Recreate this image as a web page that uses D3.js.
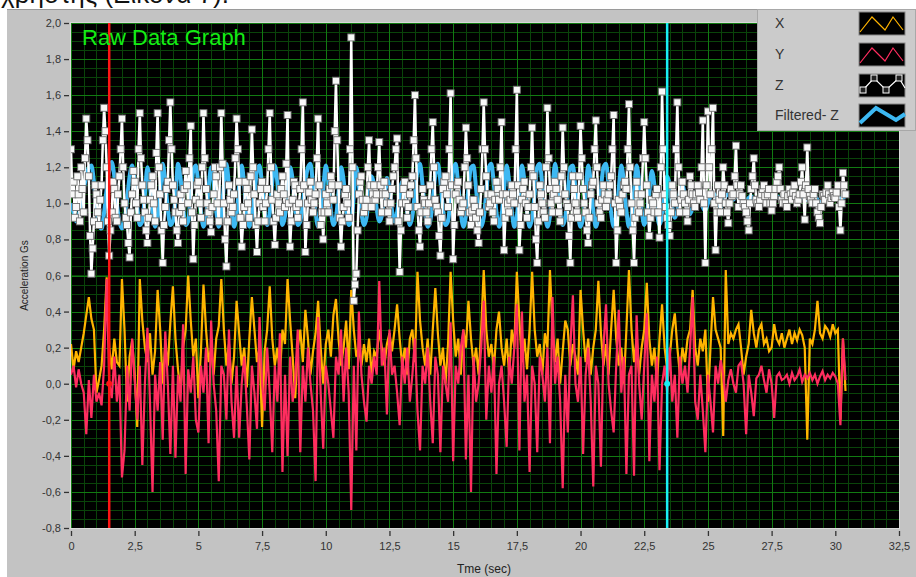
<!DOCTYPE html>
<html>
<head>
<meta charset="utf-8">
<script src="https://cdn.jsdelivr.net/npm/d3@7"></script>
<style>
  body { margin: 0; background: #fff; }
  svg { display: block; font-family: "Liberation Sans", Arial, sans-serif; }
</style>
</head>
<body>
<div id="chart"></div>
<script>
// X, Y and filtered Z are 0.1 s apart, raw Z is 0.05 s apart, all from t = 0
const sampleStep = 0.1;
const zStep = 0.05;

const xAccel = [
  0.22, 0.08, 0.18, 0.12, 0.2, 0.28, 0.38, 0.48, 0.36, 0.3,
  -0.05, 0.02, 0.1, 0.3, 0.59, 0.2, 0.08, 0.25, 0.12, 0.1,
  0.58, 0.3, -0.1, 0.15, 0.24, 0.05, -0.24, 0.58, 0.35, 0.2,
  0.12, 0.28, 0.05, 0.18, 0.52, 0.3, 0.0, 0.22, 0.1, 0.34,
  0.54, 0.25, 0.08, -0.05, 0.2, 0.3, 0.6, 0.35, 0.15, 0.25,
  -0.08, 0.18, 0.55, 0.3, 0.12, 0.2, 0.05, 0.25, 0.32, 0.58,
  0.3, 0.1, 0.22, 0.0, 0.15, 0.46, 0.28, 0.1, 0.2, -0.02,
  0.25, 0.48, 0.3, 0.12, 0.2, -0.24, 0.18, 0.3, 0.54, 0.25,
  0.1, 0.2, 0.05, 0.3, 0.22, 0.58, 0.35, 0.15, -0.08, 0.2,
  0.3, 0.12, 0.41, 0.25, 0.05, 0.18, 0.28, 0.46, 0.2, 0.0,
  0.22, 0.3, 0.15, 0.38, 0.47, 0.25, 0.1, 0.2, 0.35, 0.08,
  0.52, 0.3, 0.15, 0.2, 0.1, 0.22, 0.12, 0.25, 0.05, 0.18,
  0.15, 0.3, 0.2, 0.1, 0.22, 0.28, 0.18, 0.3, 0.44, 0.25,
  0.1, 0.2, 0.05, 0.25, 0.3, 0.12, 0.62, 0.35, 0.2, 0.1,
  0.25, 0.05, 0.3, 0.53, 0.28, 0.1, 0.2, 0.0, 0.22, 0.62,
  0.35, 0.15, 0.25, 0.05, 0.3, 0.2, 0.46, 0.25, 0.1, 0.2,
  0.05, 0.3, 0.63, 0.3, 0.15, 0.22, 0.08, 0.3, 0.4, 0.2,
  0.1, 0.25, 0.05, 0.3, 0.2, 0.62, 0.35, 0.12, 0.25, 0.08,
  0.3, 0.62, 0.3, 0.15, 0.22, 0.05, 0.28, 0.2, 0.63, 0.3,
  0.12, 0.25, 0.0, 0.18, 0.35, 0.3, 0.1, 0.22, 0.15, 0.05,
  0.52, 0.3, 0.12, 0.25, 0.05, 0.2, 0.3, 0.57, 0.28, 0.1,
  0.22, 0.05, 0.3, 0.52, 0.25, 0.1, 0.2, 0.0, 0.3, 0.63,
  0.3, 0.12, 0.25, 0.05, 0.2, 0.3, 0.56, 0.25, 0.1, 0.2,
  0.0, 0.25, 0.44, 0.2, 0.08, 0.15, 0.3, 0.39, 0.2, 0.05,
  0.2, 0.12, 0.25, 0.3, 0.52, 0.2, 0.1, 0.25, 0.18, 0.3,
  -0.1, 0.2, 0.48, 0.3, 0.25, 0.2, -0.29, 0.63, 0.22, 0.28,
  0.25, 0.3, 0.33, 0.2, 0.05, 0.15, 0.22, 0.41, 0.28, 0.2,
  0.3, 0.33, 0.22, 0.25, 0.18, 0.2, 0.33, 0.25, 0.22, 0.28,
  0.2, 0.25, 0.3, 0.22, 0.28, 0.24, 0.3, 0.27, 0.2, -0.31,
  0.25, 0.22, 0.3, 0.46, 0.28, 0.25, 0.32, 0.3, 0.26, 0.33,
  0.28, 0.3, -0.2, 0.25, -0.04
];

const yAccel = [
  0.05, 0.1, -0.02, 0.08, 0.0, -0.05, -0.28, 0.02, -0.19, 0.05,
  -0.1, -0.05, -0.12, 0.1, 0.58, 0.0, -0.08, 0.15, -0.1, 0.05,
  -0.52, -0.37, 0.1, -0.15, 0.25, 0.02, -0.2, 0.1, -0.45, 0.0,
  0.31, -0.1, -0.6, 0.05, -0.15, 0.12, -0.31, 0.29, 0.0, -0.39,
  0.1, -0.41, 0.05, -0.1, 0.33, -0.5, 0.08, -0.05, 0.15, -0.2,
  -0.27, 0.1, -0.05, 0.2, -0.33, 0.35, 0.0, -0.15, -0.54, 0.1,
  0.05, -0.2, 0.3, -0.1, -0.3, 0.1, -0.3, 0.0, 0.15, -0.12,
  -0.42, 0.1, -0.05, -0.25, 0.37, 0.0, -0.15, 0.2, -0.05, -0.38,
  0.1, -0.1, 0.28, -0.49, 0.05, -0.4, 0.15, -0.1, 0.02, 0.3,
  -0.38, 0.1, -0.1, 0.2, 0.0, -0.15, -0.54, 0.37, -0.05, -0.36,
  0.1, 0.0, -0.15, -0.3, 0.15, 0.05, 0.3, -0.1, 0.2, -0.05,
  -0.7, 0.1, -0.37, 0.4, 0.05, -0.1, -0.21, 0.1, 0.0, 0.15,
  0.05, 0.57, 0.1, 0.2, -0.17, 0.3, 0.05, 0.1, -0.05, -0.23,
  0.15, 0.0, 0.2, -0.1, 0.05, 0.25, -0.15, -0.37, 0.1, 0.0,
  0.2, -0.1, -0.33, 0.15, 0.05, -0.38, 0.1, 0.0, -0.1, 0.34,
  -0.43, 0.1, 0.0, 0.2, 0.3, -0.42, 0.05, -0.6, 0.15, -0.1,
  0.0, 0.2, 0.46, -0.2, 0.1, -0.05, 0.15, -0.5, 0.0, 0.1,
  -0.1, -0.35, 0.15, 0.0, 0.2, 0.44, -0.37, 0.4, -0.1, 0.05,
  -0.49, 0.1, 0.0, -0.38, 0.15, 0.05, -0.1, 0.2, -0.33, 0.48,
  0.0, 0.15, -0.1, -0.58, 0.05, -0.27, 0.2, 0.49, 0.0, -0.1,
  0.15, -0.39, 0.05, 0.2, -0.1, -0.57, 0.1, 0.0, -0.46, 0.2,
  0.44, 0.0, -0.15, -0.27, 0.1, 0.41, -0.05, 0.15, -0.5, 0.05,
  0.1, -0.51, 0.38, 0.0, -0.2, 0.1, 0.39, -0.43, 0.05, -0.1,
  0.15, -0.48, 0.0, 0.1, -0.05, 0.2, -0.1, 0.05, -0.3, 0.15,
  0.0, 0.1, -0.05, 0.2, 0.48, -0.1, -0.2, 0.05, -0.15, -0.38,
  0.05, -0.1, -0.27, 0.1, 0.0, 0.13, 0.05, -0.1, 0.02, 0.08,
  0.0, -0.05, 0.1, 0.12, 0.0, -0.28, 0.05, -0.05, -0.18, 0.03,
  0.05, 0.1, 0.02, -0.05, 0.08, 0.0, -0.19, 0.04, 0.06, 0.02,
  0.03, 0.05, 0.0, 0.06, 0.02, 0.04, 0.08, 0.01, 0.05, 0.03,
  0.06, 0.02, 0.05, 0.0, 0.04, 0.07, 0.02, 0.05, 0.03, 0.06,
  0.04, 0.0, -0.23, 0.25, 0.02
];

const zAccel = [
  1.3, 1.05, 1.12, 0.92, 0.98, 1.15, 1.05, 0.9, 1.2, 1.08, 0.95, 1.25, 1.47, 1.35, 1.15, 0.82, 0.61, 0.75, 0.9, 1.1,
  1.05, 0.95, 0.88, 1.02, 1.1, 1.35, 1.53, 1.4, 1.2, 0.9, 0.71, 0.85, 0.95, 1.12, 1.08, 0.92, 0.9, 1.05, 1.15, 1.3,
  1.47, 1.2, 1.0, 0.92, 0.88, 0.78, 0.7, 0.95, 1.05, 1.18, 1.12, 1.0, 0.92, 1.3, 1.5, 1.25, 1.1, 1.02, 0.95, 0.85,
  0.78, 0.92, 1.02, 1.1, 1.15, 1.0, 0.9, 1.28, 1.5, 1.2, 1.05, 0.85, 0.67, 0.88, 0.98, 1.08, 1.12, 1.35, 1.56, 1.3,
  1.1, 1.02, 0.95, 0.85, 0.78, 0.95, 1.05, 0.98, 0.9, 1.08, 1.18, 1.1, 1.0, 1.25, 1.43, 0.95, 0.69, 0.88, 1.02, 1.1,
  1.12, 1.0, 0.92, 1.2, 1.5, 1.25, 1.08, 1.0, 0.95, 0.9, 0.84, 0.98, 1.05, 1.2, 1.15, 1.0, 0.9, 1.2, 1.5, 1.22,
  1.0, 0.8, 0.65, 0.9, 1.1, 1.02, 0.95, 0.98, 1.05, 1.25, 1.47, 1.3, 1.12, 0.92, 0.76, 0.88, 0.98, 1.12, 1.08, 1.0,
  0.92, 1.15, 1.41, 1.2, 1.05, 0.88, 0.73, 0.9, 1.0, 1.08, 1.12, 0.98, 0.9, 1.0, 1.08, 1.3, 1.5, 1.2, 1.02, 0.9,
  0.77, 0.92, 1.05, 1.0, 0.95, 1.08, 1.15, 1.05, 0.98, 1.22, 1.49, 1.0, 0.76, 0.9, 1.02, 1.12, 1.1, 0.98, 0.92, 1.0,
  1.08, 1.3, 1.56, 1.1, 0.73, 0.88, 1.0, 1.06, 1.12, 1.02, 0.95, 1.0, 1.05, 1.25, 1.47, 1.1, 0.88, 0.95, 0.8, 0.95,
  1.05, 1.0, 0.95, 1.08, 1.15, 1.1, 1.02, 1.4, 1.68, 1.35, 1.1, 0.92, 0.76, 0.9, 0.98, 1.05, 1.08, 1.0, 0.92, 1.3,
  1.92, 1.2, 0.46, 0.55, 0.61, 0.85, 1.05, 1.12, 1.15, 1.02, 0.95, 0.98, 1.02, 1.2, 1.35, 1.1, 0.98, 1.05, 1.1, 1.02,
  1.05, 1.2, 1.34, 1.1, 0.95, 1.05, 1.12, 1.05, 1.0, 0.95, 0.9, 1.0, 1.08, 1.15, 1.2, 1.3, 1.36, 0.9, 0.62, 0.85,
  1.0, 1.08, 1.12, 1.0, 0.92, 0.98, 1.05, 1.1, 1.15, 1.35, 1.6, 1.25, 0.98, 0.85, 0.76, 0.95, 1.08, 1.02, 1.0, 0.95,
  0.9, 1.0, 1.1, 1.3, 1.45, 1.2, 1.02, 0.98, 0.95, 0.82, 0.71, 0.92, 1.08, 1.12, 1.15, 1.05, 0.98, 1.3, 1.61, 1.1,
  0.69, 0.88, 1.05, 1.1, 1.12, 1.02, 0.95, 0.98, 1.0, 1.2, 1.42, 1.25, 1.1, 0.95, 0.88, 0.96, 1.02, 0.98, 0.92, 0.85,
  0.78, 0.95, 1.08, 1.3, 1.56, 1.3, 1.15, 1.05, 0.98, 1.0, 1.05, 0.95, 0.9, 1.02, 1.12, 1.08, 1.02, 1.2, 1.45, 1.05,
  0.74, 0.92, 1.05, 1.0, 0.95, 1.02, 1.1, 1.05, 1.0, 1.3, 1.63, 1.1, 0.74, 0.88, 1.02, 1.08, 1.12, 1.0, 0.92, 0.98,
  1.05, 1.2, 1.42, 1.15, 0.98, 0.8, 0.67, 0.9, 1.1, 1.05, 1.0, 0.95, 0.92, 1.2, 1.53, 1.25, 1.08, 1.0, 0.95, 1.05,
  1.12, 1.08, 1.02, 0.95, 0.9, 1.15, 1.42, 1.2, 1.05, 1.0, 0.98, 0.82, 0.67, 0.92, 1.15, 1.08, 1.0, 0.95, 0.92, 1.15,
  1.43, 1.25, 1.08, 1.0, 0.95, 0.85, 0.78, 0.92, 1.05, 1.1, 1.12, 1.3, 1.46, 1.2, 1.0, 0.95, 0.92, 1.02, 1.1, 1.05,
  0.98, 1.02, 1.05, 1.1, 1.15, 1.3, 1.49, 1.0, 0.67, 0.85, 1.02, 0.98, 0.95, 1.05, 1.1, 1.12, 1.08, 1.3, 1.55, 1.2,
  1.0, 0.85, 0.67, 0.92, 1.12, 1.05, 0.95, 1.0, 1.05, 1.25, 1.45, 1.25, 1.1, 0.95, 0.82, 0.92, 1.02, 1.0, 0.95, 1.05,
  1.08, 0.95, 0.81, 1.2, 1.62, 1.3, 1.05, 0.98, 0.92, 0.88, 0.82, 0.95, 1.1, 1.05, 1.0, 1.3, 1.56, 1.2, 0.95, 1.02,
  1.12, 1.05, 1.0, 0.95, 0.9, 1.02, 1.15, 1.1, 1.05, 1.0, 0.98, 1.05, 1.1, 1.06, 1.02, 1.2, 1.46, 1.0, 0.67, 1.1,
  1.51, 1.2, 1.05, 1.3, 1.53, 1.0, 0.74, 0.95, 1.1, 1.02, 0.95, 1.05, 1.2, 1.1, 1.0, 0.95, 0.89, 1.0, 1.08, 1.04,
  1.05, 1.15, 1.32, 1.1, 0.98, 1.05, 1.1, 1.04, 1.0, 0.98, 0.95, 0.9, 0.85, 1.0, 1.08, 1.15, 1.25, 1.1, 1.02, 1.0,
  0.98, 1.02, 1.05, 1.08, 1.1, 1.04, 1.0, 1.05, 1.08, 1.0, 0.96, 1.0, 1.04, 1.08, 1.12, 1.15, 1.2, 1.08, 1.02, 1.0,
  1.05, 1.0, 0.98, 1.04, 1.08, 1.05, 1.02, 1.06, 1.1, 1.04, 1.0, 1.02, 1.05, 1.12, 1.2, 1.05, 0.91, 1.1, 1.31, 1.08,
  1.04, 1.02, 1.0, 1.05, 1.08, 1.0, 0.95, 0.92, 0.89, 0.98, 1.05, 1.04, 1.02, 1.06, 1.1, 1.05, 1.0, 1.03, 1.06, 1.04,
  1.03, 1.06, 1.1, 0.98, 0.85, 1.0, 1.17, 1.1, 1.05
];

const zFiltered = [
  1.0, 0.95, 0.9, 0.93, 1.0, 1.08, 1.15, 1.2, 1.21, 1.12,
  0.98, 0.88, 0.86, 0.95, 1.08, 1.18, 1.23, 1.15, 1.0, 0.9,
  0.86, 0.9, 1.02, 1.15, 1.21, 1.12, 0.98, 0.88, 0.9, 1.05,
  1.2, 1.1, 0.95, 0.87, 0.92, 1.06, 1.22, 1.12, 0.97, 0.88,
  0.9, 1.03, 1.22, 1.14, 0.98, 0.88, 0.9, 1.05, 1.18, 1.21,
  1.1, 0.95, 0.87, 0.92, 1.08, 1.2, 1.12, 0.96, 0.87, 0.93,
  1.1, 1.22, 1.1, 0.95, 0.87, 0.94, 1.1, 1.21, 1.1, 0.95,
  0.87, 0.92, 1.05, 1.18, 1.21, 1.1, 0.95, 0.88, 0.95, 1.12,
  1.21, 1.12, 0.97, 0.88, 0.93, 1.08, 1.2, 1.13, 0.97, 0.88,
  0.9, 1.0, 1.12, 1.2, 1.22, 1.1, 0.95, 0.87, 0.92, 1.08,
  1.21, 1.12, 0.96, 0.88, 0.92, 1.06, 1.2, 1.13, 0.97, 0.88,
  0.9, 1.04, 1.2, 1.1, 0.95, 0.88, 0.92, 1.05, 1.15, 1.1,
  0.97, 0.9, 0.93, 1.05, 1.14, 1.08, 0.96, 0.9, 0.95, 1.05,
  1.12, 1.06, 0.95, 0.88, 0.93, 1.06, 1.18, 1.22, 1.1, 0.95,
  0.87, 0.9, 1.02, 1.16, 1.22, 1.12, 0.97, 0.88, 0.9, 1.04,
  1.18, 1.22, 1.1, 0.95, 0.87, 0.93, 1.08, 1.2, 1.21, 1.08,
  0.94, 0.87, 0.92, 1.06, 1.2, 1.22, 1.1, 0.95, 0.87, 0.93,
  1.08, 1.21, 1.12, 0.96, 0.87, 0.93, 1.08, 1.21, 1.12, 0.96,
  0.87, 0.92, 1.06, 1.2, 1.22, 1.1, 0.95, 0.87, 0.93, 1.08,
  1.22, 1.12, 0.97, 0.88, 0.92, 1.06, 1.2, 1.21, 1.08, 0.94,
  0.87, 0.92, 1.06, 1.21, 1.12, 0.96, 0.87, 0.93, 1.08, 1.2,
  1.22, 1.1, 0.95, 0.87, 0.93, 1.08, 1.21, 1.12, 0.96, 0.87,
  0.92, 1.06, 1.21, 1.12, 0.96, 0.88, 0.93, 1.06, 1.18, 1.1,
  0.95, 0.88, 0.93, 1.05, 1.15, 1.1, 0.98, 0.92, 0.96, 1.06,
  1.1, 1.04, 0.96, 0.94, 0.98, 1.05, 1.08, 1.04, 0.98, 0.96,
  1.0, 1.04, 1.06, 1.03, 1.0, 0.98, 1.01, 1.04, 1.05, 1.03,
  1.02, 1.04, 1.03, 1.0, 0.99, 1.01, 1.03, 1.04, 1.02, 1.0,
  1.0, 1.02, 1.04, 1.03, 1.01, 1.0, 1.02, 1.04, 1.03, 1.01,
  1.0, 1.02, 1.03, 1.05, 1.03, 1.01, 1.02, 1.04, 1.03, 1.02,
  1.01, 1.03, 1.04, 1.02, 1.0, 1.02, 1.04, 1.03, 1.01, 1.02,
  1.03, 1.04, 1.02, 1.03, 1.04
];

const xTicks = [0, 2.5, 5, 7.5, 10, 12.5, 15, 17.5, 20, 22.5, 25, 27.5, 30, 32.5];
const yTicks = [-0.8, -0.6, -0.4, -0.2, 0, 0.2, 0.4, 0.6, 0.8, 1.0, 1.2, 1.4, 1.6, 1.8, 2.0];
const cursorTimes = [1.5, 23.4];
const legendNames = ["X", "Y", "Z", "Filtered- Z"];

var width = 916, height = 577;
var plot = { left: 71, right: 899, top: 23, bottom: 528 };
var colors = { x: "#ffb400", y: "#ff2d5f", z: "#ffffff", f: "#3db8f2" };
var cursorColors = ["#ff1414", "#19eef5"];

var svg = d3.select("#chart").append("svg")
  .attr("width", width)
  .attr("height", height);

// caption of the page above, cut off by the top edge
svg.append("text")
  .attr("x", 1).attr("y", 3)
  .style("font-size", "26px")
  .style("fill", "#111")
  .text("χρήστης (Εικόνα 7).");

// grey panel
svg.append("rect")
  .attr("x", 7).attr("y", 9)
  .attr("width", width - 7).attr("height", height - 9)
  .attr("fill", "#c3c3c3");
svg.append("line")
  .attr("x1", 7).attr("x2", width).attr("y1", 9.5).attr("y2", 9.5)
  .attr("stroke", "#9a9a9a");

var x = d3.scaleLinear().domain([0, 32.5]).range([plot.left, plot.right]);
var y = d3.scaleLinear().domain([-0.8, 2.0]).range([plot.bottom, plot.top]);

var fmt = (v) => (Number.isInteger(v) ? d3.format("d")(v) : d3.format(".1f")(v)).replace(".", ",").replace("−", "-");
var fmtY = (v) => d3.format(".1f")(v).replace(".", ",").replace("−", "-");

// plot background
svg.append("rect")
  .attr("x", plot.left).attr("y", plot.top)
  .attr("width", plot.right - plot.left).attr("height", plot.bottom - plot.top)
  .attr("fill", "#000");

svg.append("clipPath").attr("id", "clip")
  .append("rect")
  .attr("x", plot.left).attr("y", plot.top)
  .attr("width", plot.right - plot.left).attr("height", plot.bottom - plot.top);

var grid = svg.append("g").attr("clip-path", "url(#clip)");

// minor grid
grid.selectAll(".vminor")
  .data(d3.range(0, 32.51, 0.5))
  .join("line")
  .attr("x1", (d) => Math.round(x(d)) + 0.5).attr("x2", (d) => Math.round(x(d)) + 0.5)
  .attr("y1", plot.top).attr("y2", plot.bottom)
  .attr("stroke", "#0a440a");
grid.selectAll(".hminor")
  .data(d3.range(-0.8, 2.001, 0.05))
  .join("line")
  .attr("y1", (d) => Math.round(y(d)) + 0.5).attr("y2", (d) => Math.round(y(d)) + 0.5)
  .attr("x1", plot.left).attr("x2", plot.right)
  .attr("stroke", "#0a440a");

// major grid
grid.selectAll(".vmajor")
  .data(xTicks)
  .join("line")
  .attr("x1", (d) => Math.round(x(d)) + 0.5).attr("x2", (d) => Math.round(x(d)) + 0.5)
  .attr("y1", plot.top).attr("y2", plot.bottom)
  .attr("stroke", "#127a12");
grid.selectAll(".hmajor")
  .data(yTicks)
  .join("line")
  .attr("y1", (d) => Math.round(y(d)) + 0.5).attr("y2", (d) => Math.round(y(d)) + 0.5)
  .attr("x1", plot.left).attr("x2", plot.right)
  .attr("stroke", "#127a12");

// traces
var lineAt = (step) => d3.line()
  .x((d, i) => x(i * step))
  .y((d) => y(d));

var traces = svg.append("g").attr("clip-path", "url(#clip)");

traces.append("path").datum(xAccel)
  .attr("d", lineAt(sampleStep)).attr("fill", "none")
  .attr("stroke", colors.x).attr("stroke-width", 2.2);

traces.append("path").datum(yAccel)
  .attr("d", lineAt(sampleStep)).attr("fill", "none")
  .attr("stroke", colors.y).attr("stroke-width", 2.2);

traces.append("path").datum(zFiltered)
  .attr("d", lineAt(sampleStep).curve(d3.curveMonotoneX)).attr("fill", "none")
  .attr("stroke", colors.f).attr("stroke-width", 4);

traces.append("path").datum(zAccel)
  .attr("d", lineAt(zStep)).attr("fill", "none")
  .attr("stroke", colors.z).attr("stroke-width", 2.5);

// square markers: white body, thin grey rim
traces.selectAll(".zmark")
  .data(zAccel)
  .join("rect")
  .attr("class", "zmark")
  .attr("x", (d, i) => x(i * zStep) - 3.5)
  .attr("y", (d) => y(d) - 3.5)
  .attr("width", 7).attr("height", 7)
  .attr("fill", "#f8f8f8")
  .attr("stroke", "#6e6e6e")
  .attr("stroke-width", 0.9);

// cursors
cursorTimes.forEach((t, i) => {
  traces.append("line")
    .attr("x1", x(t)).attr("x2", x(t))
    .attr("y1", plot.top).attr("y2", plot.bottom)
    .attr("stroke", cursorColors[i]).attr("stroke-width", 2.5);
  traces.append("circle")
    .attr("cx", x(t)).attr("cy", y(0)).attr("r", 3)
    .attr("fill", cursorColors[i]);
});

// plot frame
svg.append("rect")
  .attr("x", plot.left - 0.5).attr("y", plot.top - 0.5)
  .attr("width", plot.right - plot.left + 1).attr("height", plot.bottom - plot.top + 1)
  .attr("fill", "none").attr("stroke", "#d9d9d9");

// title inside plot
svg.append("text")
  .attr("x", 82).attr("y", 45)
  .style("font-size", "22px")
  .style("fill", "#14ee14")
  .text("Raw Data Graph");

// axes
var yAxis = svg.append("g")
  .attr("transform", "translate(" + (plot.left - 2) + ",0)")
  .call(d3.axisLeft(y).tickValues(yTicks).tickFormat(fmtY).tickSize(5).tickPadding(3));
var xAxis = svg.append("g")
  .attr("transform", "translate(0," + (plot.bottom + 3) + ")")
  .call(d3.axisBottom(x).tickValues(xTicks).tickFormat(fmt).tickSize(5).tickPadding(6));

[xAxis, yAxis].forEach((a) => {
  a.select(".domain").remove();
  a.selectAll("line").attr("stroke", "#333").attr("stroke-width", 1.3);
  a.selectAll("text")
    .style("font-family", "'Liberation Sans', Arial, sans-serif")
    .style("font-size", "11px")
    .attr("fill", "#333");
});

svg.append("text")
  .attr("transform", "translate(28," + ((plot.top + plot.bottom) / 2) + ") rotate(-90)")
  .attr("text-anchor", "middle")
  .style("font-size", "10px")
  .style("fill", "#222")
  .text("Acceleration Gs");

svg.append("text")
  .attr("x", 484).attr("y", 573)
  .attr("text-anchor", "middle")
  .style("font-size", "12px")
  .style("fill", "#222")
  .text("Tme (sec)");

// legend
var legend = svg.append("g");
legend.append("rect")
  .attr("x", 757.5).attr("y", 9.5)
  .attr("width", 158).attr("height", 121)
  .attr("fill", "#cbcbcb").attr("stroke", "#a8a8a8");

var swatchX = 859, swatchW = 46, swatchH = 23;
var rowY = [12, 43, 74, 104];

var swatchLines = [
  [[1, 20], [13, 5], [26, 18], [34, 5], [44, 18]],
  [[1, 20], [13, 5], [26, 18], [34, 5], [44, 18]],
  [[4, 16], [15, 4], [27, 16], [40, 4], [46, 14]],
  [[1, 19], [17, 4], [37, 16], [46, 10]]
];
var swatchColors = [colors.x, colors.y, colors.z, colors.f];

legendNames.forEach((name, i) => {
  legend.append("text")
    .attr("x", 775).attr("y", rowY[i] + 16)
    .style("font-size", "14px")
    .style("fill", "#333")
    .text(name);
  var g = legend.append("g").attr("transform", "translate(" + swatchX + "," + rowY[i] + ")");
  g.append("rect")
    .attr("width", swatchW).attr("height", swatchH)
    .attr("fill", "#000").attr("stroke", "#888");
  g.append("path")
    .attr("d", d3.line()(swatchLines[i]))
    .attr("fill", "none")
    .attr("stroke", swatchColors[i])
    .attr("stroke-width", i == 3 ? 4 : 1.2);
  if (i == 2) {
    g.selectAll("rect.m")
      .data(swatchLines[i].slice(0, 4))
      .join("rect")
      .attr("class", "m")
      .attr("x", (d) => d[0] - 3).attr("y", (d) => d[1] - 3)
      .attr("width", 6).attr("height", 6)
      .attr("fill", "#222").attr("stroke", "#fff");
  }
});
</script>
</body>
</html>
